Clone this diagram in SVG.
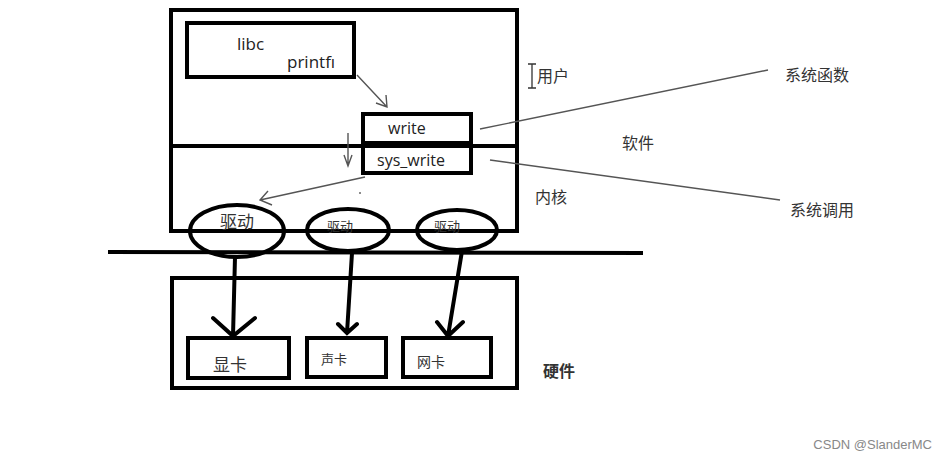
<svg xmlns="http://www.w3.org/2000/svg" width="947" height="461" viewBox="0 0 947 461">
<style>
.box{fill:none;stroke:#000;stroke-width:4}
.ell{fill:none;stroke:#000;stroke-width:4}
.thick{fill:none;stroke:#000;stroke-width:4;stroke-linecap:round}
.thin{fill:none;stroke:#555;stroke-width:1.4}
.lat{font-family:"Open Sans","Noto Sans",sans-serif;fill:#222}
.cjk{font-family:"Noto Sans CJK SC",sans-serif;fill:#333}
</style>
<rect width="947" height="461" fill="#fff"/>
<g id="user-kernel">
<rect class="box" x="171" y="10" width="346" height="221"/>
<line class="box" x1="171" y1="146" x2="517" y2="146"/>
</g>
<g id="libc">
<rect class="box" x="187" y="23" width="167" height="54"/>
<text class="lat" x="237" y="50" font-size="17">libc</text>
<text class="lat" x="287" y="68" font-size="17">printfı</text>
</g>
<g id="write">
<rect class="box" x="363" y="114" width="108" height="29"/>
<text class="lat" x="388" y="134" font-size="16">write</text>
</g>
<g id="sys_write">
<rect class="box" x="363" y="146" width="108" height="27"/>
<text class="lat" x="377" y="166" font-size="16">sys_write</text>
</g>
<line class="box" x1="108" y1="252" x2="643" y2="253"/>
<g id="driver1">
<ellipse class="ell" cx="237" cy="231" rx="47" ry="26"/>
<text class="cjk" x="237" y="228" font-size="17" text-anchor="middle">驱动</text>
</g>
<g id="driver2">
<ellipse class="ell" cx="348" cy="230" rx="41" ry="21"/>
<text class="cjk" x="340" y="231" font-size="13" text-anchor="middle">驱动</text>
</g>
<g id="driver3">
<ellipse class="ell" cx="457" cy="230" rx="40" ry="20"/>
<text class="cjk" x="447" y="231" font-size="13" text-anchor="middle">驱动</text>
</g>
<g id="hardware">
<rect class="box" x="172" y="278" width="345" height="110"/>
</g>
<g id="gpu">
<rect class="box" x="188" y="338" width="101" height="40"/>
<text class="cjk" x="213" y="371" font-size="17">显卡</text>
</g>
<g id="sound">
<rect class="box" x="307" y="338" width="79" height="39"/>
<text class="cjk" x="321" y="364" font-size="13">声卡</text>
</g>
<g id="nic">
<rect class="box" x="403" y="338" width="88" height="39"/>
<text class="cjk" x="417" y="367" font-size="14">网卡</text>
</g>
<g id="labels">
<text class="cjk" x="537" y="82" font-size="16">用户</text>
<text class="cjk" x="622" y="149" font-size="16">软件</text>
<text class="cjk" x="535" y="203" font-size="16">内核</text>
<text class="cjk" x="543" y="377" font-size="16" font-weight="bold">硬件</text>
<text class="cjk" x="785" y="81" font-size="16">系统函数</text>
<text class="cjk" x="790" y="216" font-size="16">系统调用</text>
<text x="932" y="449" font-size="13" text-anchor="end" font-family="Liberation Sans,Arial,sans-serif" fill="#888">CSDN @SlanderMC</text>
</g>
<g id="connectors">
<path class="thin" d="M357 75 L387 107 M376 103 L387 107 L386 95"/>
<path class="thin" d="M348 133 L348 166 M344 155 L348 166 L352 155"/>
<path class="thin" d="M365 177 L260 200 M268 191 L260 200 L272 205"/>
<path class="thin" d="M480 129 L768 70"/>
<path class="thin" d="M490 160 L780 200"/>
<path class="thick" d="M235 257 L233 336 M213 318 L233 336 L255 318"/>
<path class="thick" d="M352 253 L347 333 M338 324 L347 333 L357 324"/>
<path class="thick" d="M462 251 L448 336 M437 322 L448 336 L463 322"/>
<path d="M532 64 L532 88 M528 64 L536 64 M528 88 L536 88" stroke="#333" stroke-width="1.3" fill="none"/>
<circle cx="360" cy="193" r="1" fill="#666"/>
</g>
</svg>
